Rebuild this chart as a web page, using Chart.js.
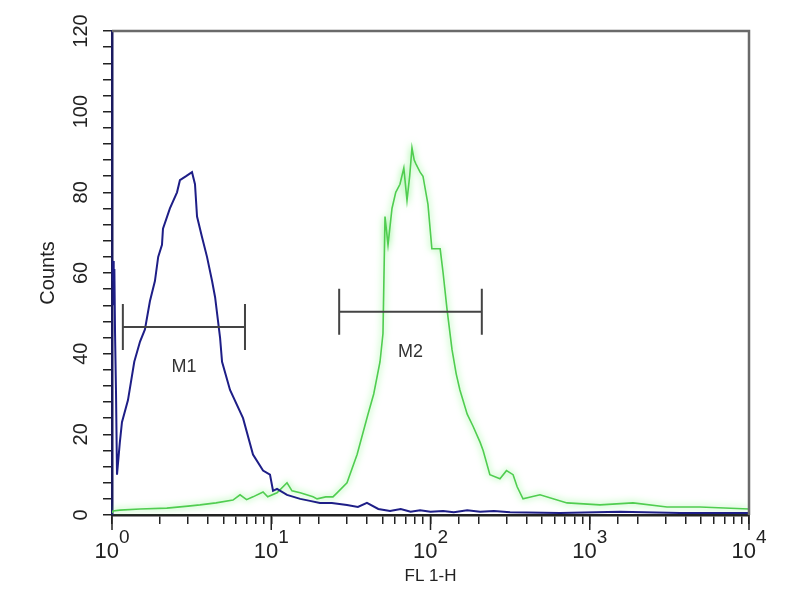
<!DOCTYPE html>
<html>
<head>
<meta charset="utf-8">
<script src="https://cdn.jsdelivr.net/npm/chart.js@4"></script>
<style>
  body { margin: 0; background: #fff; }
  canvas { display: block; }
</style>
</head>
<body>
<canvas id="myChart" width="800" height="600"></canvas>
<script>
// isotype control (blue) histogram, FL1-H channel vs counts
const blueFL = [1.0, 1.008, 1.016, 1.025, 1.035, 1.045, 1.06, 1.075, 1.12, 1.155, 1.26, 1.38, 1.5, 1.61, 1.73, 1.86, 1.95, 2.06, 2.09, 2.31, 2.56, 2.67, 2.92,
  3.18, 3.32, 3.42, 3.67, 3.95, 4.25, 4.44, 4.77, 4.91, 5.51, 6.65, 7.68, 8.88, 9.82, 10.26, 10.87, 12.56, 15.2, 17.5, 20.2,
  24, 29.9, 35, 39.9, 47, 55.7, 65, 75, 86, 100, 120, 140, 170, 205, 250, 316, 400, 650, 1550, 3690, 10000];
const blueCounts = [63, 58, 63, 52, 61, 45, 30, 10, 18, 23, 28.5, 38, 43, 46, 53, 58, 64, 67, 71, 76, 80, 83, 84,
  85, 82, 74, 69, 64, 58, 54, 44, 38, 31, 24, 15, 11, 10, 6, 6.5, 5, 4, 3.5, 3,
  3, 2.5, 2, 3, 1.5, 1, 1.5, 0.8, 1.2, 0.8, 1.0, 0.7, 1.2, 0.8, 1.0, 0.7, 0.6, 0.5, 0.8, 0.5, 0.5];

// stained sample (green) histogram
const greenFL = [1.0, 1.015, 1.12, 1.5, 2.21, 3.0, 3.57, 4.5, 5.75, 6.37, 7.0, 7.68, 8.88, 9.5, 10.87, 12.56, 13.5, 15.2, 18.3, 19.4,
  22, 24.4, 25.9, 29.9, 34.6, 40.5, 44, 48.2, 50.3, 51.8, 54.1, 57.3, 60.5, 64.3, 68, 71.2, 74, 76.5, 79, 81.1,
  86, 89.7, 96.4, 102, 115, 120, 127, 136.5, 145, 153, 170, 185, 205, 214, 236, 273, 300, 330, 350, 381,
  487, 720, 1160, 1870, 3055, 4924, 10000];
const greenCounts = [0.5, 1, 1.2, 1.5, 1.7, 2.2, 2.5, 3, 3.7, 5, 3.8, 4.5, 5.7, 4.5, 5.5, 8, 6, 5.5, 4.5, 4,
  4.5, 4.5, 5.5, 8, 15, 25, 30, 38, 45, 74, 67, 76, 80, 82, 86, 78, 84, 91, 88, 87,
  85, 84, 77, 66, 66, 60, 51, 41, 35, 31, 25, 22, 18, 16, 10, 9, 11, 10, 7, 4,
  5, 3, 2.5, 3, 2, 2, 1.5];

// marker gates
const gateNames = ['M1', 'M2'];
const gateStart = [1.17, 26.7];
const gateEnd = [6.84, 210];
const gateLevel = [46.6, 50.4];

const xDecades = [1, 10, 100, 1000, 10000];

const FONT = '"Liberation Sans", Arial, sans-serif';

const toPoints = (xs, ys) => xs.map((v, i) => ({x: v, y: ys[i]}));

const flowExtras = {
  id: 'flowExtras',
  beforeDatasetDraw(chart, args) {
    if (args.index === 1) {
      chart.ctx.save();
      chart.ctx.shadowColor = 'rgba(110,240,110,1)';
      chart.ctx.shadowBlur = 7;
    }
  },
  afterDatasetDraw(chart, args) {
    if (args.index === 1) chart.ctx.restore();
  },
  afterDatasetsDraw(chart) {
    const {ctx, scales: {x, y}} = chart;
    ctx.save();
    ctx.strokeStyle = '#444';
    ctx.lineWidth = 2;
    ctx.fillStyle = '#333';
    ctx.font = '18px ' + FONT;
    ctx.textAlign = 'center';
    ctx.textBaseline = 'middle';
    gateNames.forEach((name, i) => {
      const x1 = x.getPixelForValue(gateStart[i]);
      const x2 = x.getPixelForValue(gateEnd[i]);
      const yy = y.getPixelForValue(gateLevel[i]);
      ctx.beginPath();
      ctx.moveTo(x1, yy); ctx.lineTo(x2, yy);
      ctx.moveTo(x1, yy - 23); ctx.lineTo(x1, yy + 23);
      ctx.moveTo(x2, yy - 23); ctx.lineTo(x2, yy + 23);
      ctx.stroke();
      ctx.fillText(name, (x1 + x2) / 2, yy + 40);
    });
    ctx.restore();
  },
  afterDraw(chart) {
    const {ctx, chartArea: {top, bottom, left, right}, scales: {x}} = chart;
    ctx.save();
    // frame top and right
    ctx.strokeStyle = '#6a6a6a';
    ctx.lineWidth = 2.5;
    ctx.beginPath();
    ctx.moveTo(left, top); ctx.lineTo(right, top); ctx.lineTo(right, bottom);
    ctx.stroke();
    // decade labels with superscript exponent + longer major ticks
    ctx.fillStyle = '#222';
    ctx.strokeStyle = '#222';
    ctx.lineWidth = 1.5;
    ctx.textBaseline = 'middle';
    ctx.textAlign = 'left';
    xDecades.forEach(v => {
      const px = x.getPixelForValue(v);
      const exp = String(Math.round(Math.log10(v)));
      ctx.font = '22px ' + FONT;
      const w1 = ctx.measureText('10').width;
      ctx.font = '19px ' + FONT;
      const w2 = ctx.measureText(exp).width;
      const start = px - (w1 + w2) / 2;
      ctx.font = '22px ' + FONT;
      ctx.fillText('10', start, 552);
      ctx.font = '19px ' + FONT;
      ctx.fillText(exp, start + w1, 538);
      ctx.beginPath();
      ctx.moveTo(px, bottom); ctx.lineTo(px, bottom + 15);
      ctx.stroke();
    });
    ctx.restore();
  }
};

const config = {
  type: 'line',
  data: {
    datasets: [
      {
        label: 'control',
        data: toPoints(blueFL, blueCounts),
        borderColor: 'rgb(30,30,135)',
        borderWidth: 2,
        pointRadius: 0,
        tension: 0,
        fill: false
      },
      {
        label: 'sample',
        data: toPoints(greenFL, greenCounts),
        borderColor: 'rgb(80,205,80)',
        borderWidth: 1.6,
        pointRadius: 0,
        tension: 0,
        fill: false
      }
    ]
  },
  options: {
    responsive: false,
    animation: false,
    layout: { padding: { top: 31, right: 51, left: 0, bottom: 0 } },
    plugins: {
      legend: { display: false },
      tooltip: { enabled: false }
    },
    scales: {
      x: {
        type: 'logarithmic',
        min: 1,
        max: 10000,
        afterFit(scale) { scale.height = 85; },
        grid: { drawOnChartArea: false, drawTicks: true, tickLength: 9, color: '#222', lineWidth: 1.5 },
        border: { display: true, color: '#222', width: 2.5 },
        ticks: { display: false, autoSkip: false },
        title: {
          display: true,
          text: 'FL 1-H',
          color: '#222',
          font: { size: 17, family: FONT },
          padding: { top: 0, bottom: 13 }
        }
      },
      y: {
        min: 0,
        max: 120,
        afterFit(scale) { scale.width = 112; },
        grid: { drawOnChartArea: false, drawTicks: true, tickLength: 9, color: '#222', lineWidth: 1.5 },
        border: { display: true, color: '#1a1a60', width: 2.5 },
        ticks: {
          stepSize: 4,
          autoSkip: false,
          minRotation: 90,
          maxRotation: 90,
          crossAlign: 'center',
          padding: 5,
          color: '#222',
          font: { size: 20, family: FONT },
          callback: v => (v % 20 === 0 ? String(v) : '')
        },
        title: {
          display: true,
          text: 'Counts',
          color: '#222',
          font: { size: 20, family: FONT },
          padding: { top: 36, bottom: 0 }
        }
      }
    }
  },
  plugins: [flowExtras]
};

const myChart = new Chart(document.getElementById('myChart'), config);
</script>
</body>
</html>
